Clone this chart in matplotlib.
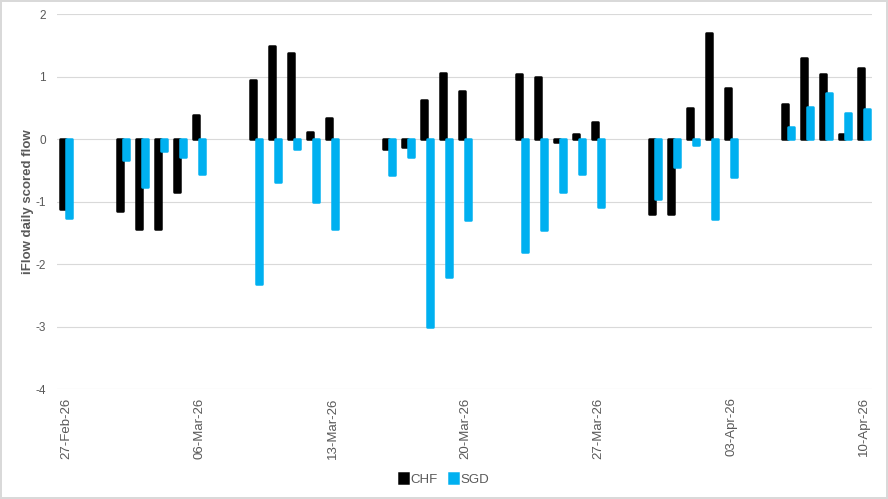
import numpy as np
import pandas as pd
import matplotlib
matplotlib.use("Agg")
import matplotlib.pyplot as plt
import matplotlib.dates as mdates

plt.rcParams["font.family"] = ["Liberation Sans", "DejaVu Sans"]
plt.rcParams["axes.unicode_minus"] = False

# business days shown on the chart
dates = ["2026-02-27",
         "2026-03-02", "2026-03-03", "2026-03-04", "2026-03-05", "2026-03-06",
         "2026-03-09", "2026-03-10", "2026-03-11", "2026-03-12", "2026-03-13",
         "2026-03-16", "2026-03-17", "2026-03-18", "2026-03-19", "2026-03-20",
         "2026-03-23", "2026-03-24", "2026-03-25", "2026-03-26", "2026-03-27",
         "2026-03-30", "2026-03-31", "2026-04-01", "2026-04-02", "2026-04-03",
         "2026-04-06", "2026-04-07", "2026-04-08", "2026-04-09", "2026-04-10"]

chf = [-1.12,
       -1.15, -1.43, -1.43, -0.85, 0.39,
       0.95, 1.50, 1.38, 0.12, 0.34,
       -0.15, -0.12, 0.63, 1.06, 0.78,
       1.05, 1.00, -0.04, 0.09, 0.28,
       -1.19, -1.19, 0.50, 1.70, 0.82,
       0.56, 1.30, 1.05, 0.09, 1.14]

sgd = [-1.26,
       -0.33, -0.77, -0.19, -0.29, -0.55,
       -2.32, -0.68, -0.15, -1.01, -1.44,
       -0.58, -0.29, -3.00, -2.20, -1.29,
       -1.81, -1.46, -0.84, -0.55, -1.09,
       -0.96, -0.45, -0.10, -1.27, -0.61,
       0.19, 0.52, 0.74, 0.42, 0.48]

x = mdates.date2num(pd.to_datetime(dates))
chf_color = "#000000"
sgd_color = "#00B0F0"
grey = "#595959"

fig = plt.figure(figsize=(8.88, 4.99), dpi=100)
fig.patch.set_edgecolor("#d9d9d9")
fig.patch.set_linewidth(1.5)
ax = fig.add_axes([0.0642, 0.2204, 0.9178, 0.7509])

w = 0.29
ax.bar(x - 0.18, chf, width=w, color=chf_color, edgecolor=chf_color,
       linewidth=1.8, joinstyle="round", label="CHF", zorder=2)
ax.bar(x + 0.13, sgd, width=w, color=sgd_color, edgecolor=sgd_color,
       linewidth=1.8, joinstyle="round", label="SGD", zorder=3)

ax.set_ylim(-4, 2)
ax.set_yticks(np.arange(-4, 3, 1))
ax.set_xlim(x[0] - 0.5, x[-1] + 0.4)
ticks = mdates.date2num(pd.date_range(dates[0], dates[-1], freq="7D"))
ax.set_xticks(ticks)
ax.xaxis.set_major_formatter(mdates.DateFormatter("%d-%b-%y"))
plt.setp(ax.get_xticklabels(), rotation=90)

ax.grid(axis="y", color="#d9d9d9", linewidth=0.8, zorder=0)
ax.set_axisbelow(True)
for s in ax.spines.values():
    s.set_visible(False)
ax.tick_params(axis="both", length=0, labelcolor=grey)
ax.tick_params(axis="x", pad=6, labelsize=9.5)
ax.tick_params(axis="y", pad=8, labelsize=8.5)
ax.set_ylabel("iFlow daily scored flow", fontsize=9.5, fontweight="bold",
              color=grey, labelpad=1)

fig.legend(loc="lower center", bbox_to_anchor=(0.5, 0.003), ncol=2,
           frameon=False, fontsize=9.5, handlelength=0.7, handleheight=0.7,
           handletextpad=0.2, columnspacing=0.8, labelcolor=grey)

fig.savefig("out.png", dpi=100)
